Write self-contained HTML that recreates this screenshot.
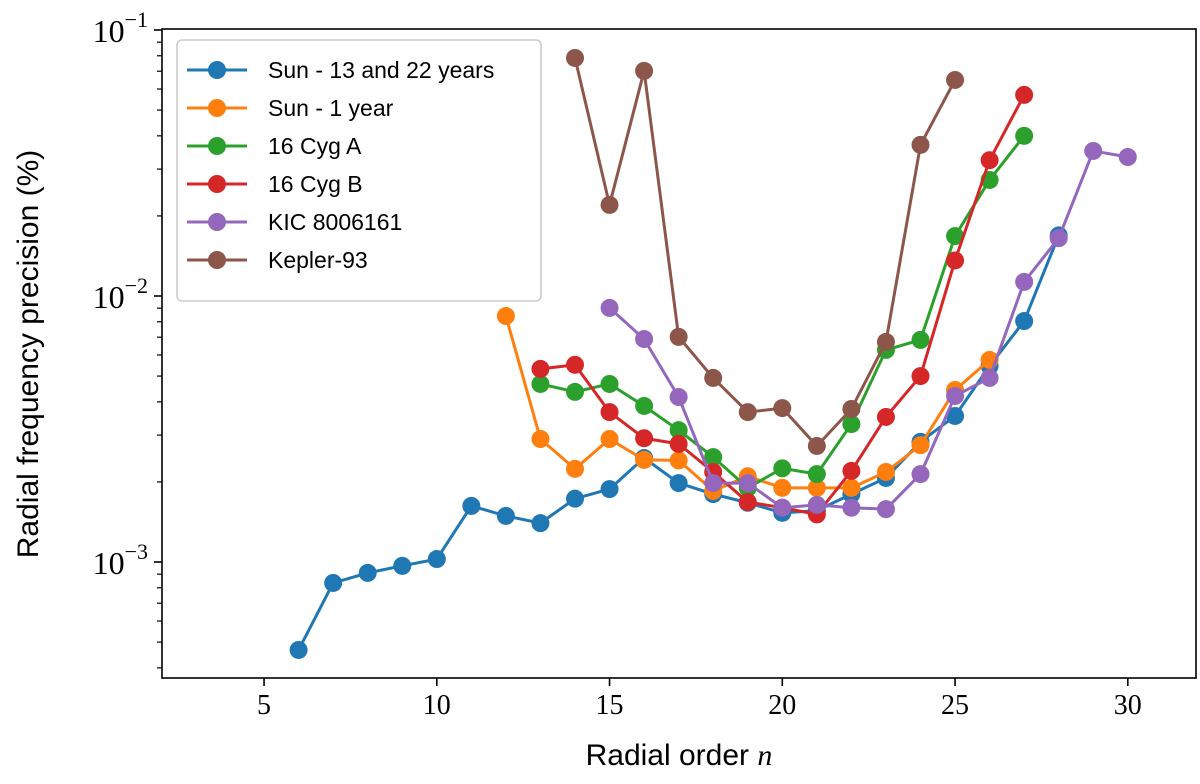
<!DOCTYPE html>
<html><head><meta charset="utf-8"><style>
body{margin:0;background:#fff;}
svg text{font-family:"Liberation Sans",sans-serif;fill:#000;}
.tk{font-family:"Liberation Serif",serif;font-size:28px;}
</style></head><body>
<svg id="chart" width="1200" height="779" xmlns="http://www.w3.org/2000/svg">
<g id="plot"></g>
</svg>
<script>
const nSun22 = [6,7,8,9,10,11,12,13,14,15,16,17,18,19,20,21,22,23,24,25,26,27,28];
const vSun22 = [4.67e-4,8.34e-4,9.10e-4,9.67e-4,1.026e-3,1.625e-3,1.49e-3,1.40e-3,1.73e-3,1.88e-3,2.46e-3,1.98e-3,1.80e-3,1.67e-3,1.53e-3,1.56e-3,1.80e-3,2.07e-3,2.83e-3,3.54e-3,5.46e-3,8.05e-3,1.69e-2];
const nSun1 = [12,13,14,15,16,17,18,19,20,21,22,23,24,25,26];
const vSun1 = [8.41e-3,2.90e-3,2.24e-3,2.90e-3,2.42e-3,2.41e-3,1.85e-3,2.10e-3,1.90e-3,1.90e-3,1.90e-3,2.18e-3,2.75e-3,4.43e-3,5.75e-3];
const nCygA = [13,14,15,16,17,18,19,20,21,22,23,24,25,26,27];
const vCygA = [4.67e-3,4.36e-3,4.67e-3,3.86e-3,3.13e-3,2.48e-3,1.90e-3,2.25e-3,2.14e-3,3.30e-3,6.27e-3,6.84e-3,1.68e-2,2.73e-2,4.0e-2];
const nCygB = [13,14,15,16,17,18,19,20,21,22,23,24,25,26,27];
const vCygB = [5.32e-3,5.51e-3,3.66e-3,2.92e-3,2.78e-3,2.18e-3,1.68e-3,1.60e-3,1.51e-3,2.20e-3,3.51e-3,5.00e-3,1.36e-2,3.24e-2,5.70e-2];
const nKIC = [15,16,17,18,19,20,21,22,23,24,25,26,27,28,29,30];
const vKIC = [9.02e-3,6.89e-3,4.17e-3,1.98e-3,1.98e-3,1.60e-3,1.64e-3,1.60e-3,1.58e-3,2.14e-3,4.21e-3,4.92e-3,1.13e-2,1.65e-2,3.51e-2,3.33e-2];
const nK93 = [14,15,16,17,18,19,20,21,22,23,24,25];
const vK93 = [7.85e-2,2.20e-2,7.02e-2,7.02e-3,4.92e-3,3.66e-3,3.79e-3,2.73e-3,3.76e-3,6.72e-3,3.70e-2,6.49e-2];
const seriesNames = ["Sun - 13 and 22 years","Sun - 1 year","16 Cyg A","16 Cyg B","KIC 8006161","Kepler-93"];
const xTicks = [5,10,15,20,25,30];
const yTicks = [-3,-2,-1];

const L=162,R=1196,T=29,B=678;
const X=n=>91.3+n*34.55;
const Y=v=>30+(-1-Math.log10(v))*266;
const NS="http://www.w3.org/2000/svg";
const g=document.getElementById('plot');
function mk(tag,at,parent){const e=document.createElementNS(NS,tag);for(const k in at)e.setAttribute(k,at[k]);(parent||g).appendChild(e);return e;}

const frame=mk('rect',{x:L,y:T,width:R-L,height:B-T,fill:'none',stroke:'#000','stroke-width':1.6});


xTicks.forEach(t=>{
  const ln=mk('line',{x1:X(t),x2:X(t),y1:B,y2:B+8,stroke:'#000','stroke-width':1.6});
  
  
  const tx=mk('text',{x:X(t),y:B+36,'text-anchor':'middle',class:'tk'});
  tx.textContent=t;
  
  
});
yTicks.forEach(e=>{
  const y=Y(Math.pow(10,e));
  const ln=mk('line',{x1:L-8,x2:L,y1:y,y2:y,stroke:'#000','stroke-width':1.6});
  
  
  const tx=mk('text',{x:L-14,y:y+12,'text-anchor':'end',class:'tk','font-size':32});
  tx.innerHTML='<tspan font-size="32">10</tspan><tspan dy="-15" font-size="22">−'+(-e)+'</tspan>';
  
  
});
for(let e=-4;e<=-2;e++)for(let m=2;m<=9;m++){
  const v=m*Math.pow(10,e);const y=Y(v);
  if(y<T||y>B)continue;
  const ln=mk('line',{x1:L-5,x2:L,y1:y,y2:y,stroke:'#000','stroke-width':1.2});
  
  
}
const xt=mk('text',{x:679,y:765,'text-anchor':'middle','font-size':30});
xt.innerHTML='Radial order <tspan font-family="Liberation Serif" font-style="italic">n</tspan>';


const yt=mk('text',{x:0,y:0,'text-anchor':'middle','font-size':30,transform:'translate(38,354) rotate(-90)'});
yt.textContent='Radial frequency precision (%)';



const colors=['#1f77b4','#ff7f0e','#2ca02c','#d62728','#9467bd','#8c564b'];
const data=[[nSun22,vSun22],[nSun1,vSun1],[nCygA,vCygA],[nCygB,vCygB],[nKIC,vKIC],[nK93,vK93]];
data.forEach((d,i)=>{
  const sg=mk('g',{});
  
  
  const pts=d[0].map((n,j)=>X(n)+','+Y(d[1][j])).join(' ');
  const pl=mk('polyline',{points:pts,fill:'none',stroke:colors[i],'stroke-width':3,'stroke-linejoin':'round'},sg);
  
  
  d[0].forEach((n,j)=>{
    const c=mk('circle',{cx:X(n),cy:Y(d[1][j]),r:9,fill:colors[i]},sg);
    
    
  });
});
const lg=mk('g',{});


mk('rect',{x:177,y:40,width:364,height:261,rx:5,fill:'#fff','fill-opacity':0.85,stroke:'#ccc','stroke-width':1.6},lg);
seriesNames.forEach((s,i)=>{
  const y=70+i*38;
  const eg=mk('g',{},lg);
  
  
  mk('line',{x1:187,x2:247,y1:y,y2:y,stroke:colors[i],'stroke-width':3},eg);
  mk('circle',{cx:217,cy:y,r:9,fill:colors[i]},eg);
  const t=mk('text',{x:268,y:y+8,'font-size':23},eg);
  t.textContent=s;
});
</script>
</body></html>
